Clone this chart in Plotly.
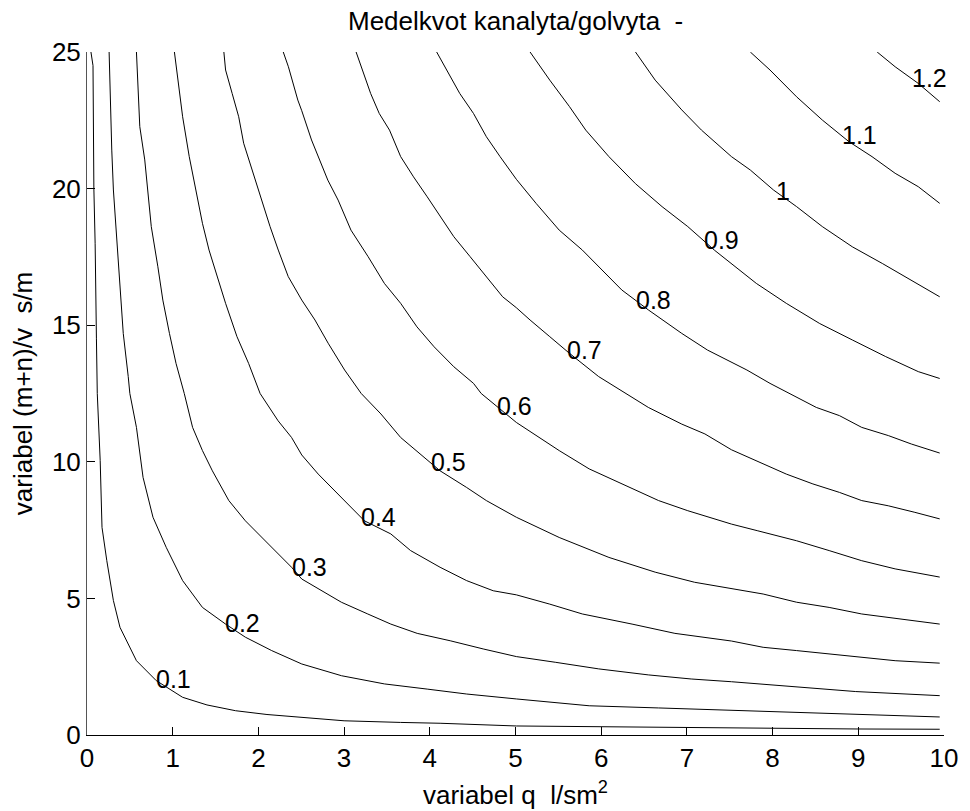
import numpy as np
import plotly.graph_objects as go

# Contour levels of the mean ratio, each traced as (q, (m+n)/v) points
levels = [0.1, 0.2, 0.3, 0.4, 0.5, 0.6, 0.7, 0.8, 0.9, 1.0, 1.1, 1.2]
level_text = ["0.1", "0.2", "0.3", "0.4", "0.5", "0.6", "0.7", "0.8", "0.9", "1", "1.1", "1.2"]

q_01 = [0.046, 0.07, 0.08, 0.095, 0.11, 0.12, 0.154, 0.175, 0.231, 0.308, 0.385, 0.577, 0.808,
        1.116, 1.40, 1.732, 2.10, 2.50, 3.0, 3.66, 4.12, 5.01, 5.7, 6.5, 7.5, 8.0, 9.0, 9.95]
k_01 = [25.0, 24.5, 20.0, 18.0, 14.5, 12.5, 10.04, 7.6, 6.38, 4.92, 3.94, 2.72, 1.99,
        1.38, 1.10, 0.89, 0.75, 0.65, 0.52, 0.46, 0.43, 0.33, 0.31, 0.28, 0.27, 0.23, 0.22, 0.21]

q_02 = [0.258, 0.27, 0.289, 0.308, 0.346, 0.385, 0.423, 0.481, 0.50, 0.577, 0.654, 0.77, 0.924,
        1.116, 1.347, 1.617, 1.848, 2.155, 2.506, 2.97, 3.47, 3.97, 4.43, 5.01, 5.51, 5.86,
        6.67, 7.24, 8.0, 8.8, 9.5, 9.95]
k_02 = [25.0, 23.24, 21.41, 19.95, 18.24, 16.53, 14.70, 13.12, 12.5, 11.26, 9.43, 7.97, 6.87,
        5.65, 4.67, 4.06, 3.58, 3.09, 2.60, 2.17, 1.87, 1.68, 1.50, 1.32, 1.16, 1.07,
        0.99, 0.93, 0.84, 0.77, 0.70, 0.66]

q_03 = [0.577, 0.597, 0.616, 0.674, 0.712, 0.75, 0.827, 0.885, 0.962, 1.039, 1.135, 1.232, 1.347,
        1.463, 1.655, 1.848, 2.117, 2.387, 2.506, 2.737, 2.968, 3.276, 3.545, 3.853, 4.238,
        4.623, 5.01, 5.47, 5.97, 6.55, 7.05, 7.52, 8.28, 8.97, 9.95]
k_03 = [25.0, 23.24, 22.27, 21.05, 19.83, 18.61, 17.14, 15.92, 14.70, 13.60, 12.5, 11.26, 10.41,
        9.67, 8.58, 7.84, 6.99, 6.14, 5.71, 5.28, 4.86, 4.43, 4.06, 3.72, 3.45,
        3.15, 2.87, 2.66, 2.42, 2.20, 2.05, 1.95, 1.75, 1.59, 1.44]

q_04 = [1.02, 1.04, 1.116, 1.193, 1.27, 1.347, 1.424, 1.52, 1.617, 1.75, 1.886, 2.02, 2.23, 2.387,
        2.506, 2.698, 2.968, 3.237, 3.545, 3.776, 4.12, 4.43, 4.74, 5.01, 5.40, 5.78, 6.36,
        6.86, 7.52, 7.89, 8.28, 8.66, 9.04, 9.43, 9.95]
k_04 = [25.0, 24.46, 22.63, 21.17, 19.95, 18.73, 17.75, 16.78, 15.80, 14.58, 13.60, 12.5, 11.5, 10.89,
        10.25, 9.55, 8.70, 7.84, 7.36, 6.75, 6.14, 5.65, 5.28, 5.13, 4.79, 4.43, 4.06,
        3.72, 3.44, 3.21, 3.09, 2.96, 2.84, 2.72, 2.63]

q_05 = [1.597, 1.617, 1.694, 1.77, 1.828, 1.925, 2.02, 2.136, 2.232, 2.348, 2.506, 2.66, 2.814,
        3.006, 3.20, 3.43, 3.66, 3.93, 4.12, 4.43, 4.66, 5.01, 5.51, 6.09, 6.63, 7.09, 7.52,
        7.89, 8.28, 8.66, 9.04, 9.43, 9.95]
k_05 = [25.0, 24.34, 23.48, 22.63, 21.66, 20.68, 19.70, 18.61, 17.75, 16.78, 15.92, 15.19, 14.34,
        13.36, 12.5, 11.75, 10.89, 10.16, 9.67, 9.06, 8.58, 7.97, 7.23, 6.50, 5.96, 5.59, 5.36,
        5.16, 4.86, 4.67, 4.43, 4.28, 4.06]

q_06 = [2.29, 2.35, 2.46, 2.506, 2.62, 2.70, 2.81, 2.93, 3.08, 3.28, 3.47, 3.66, 3.85, 4.05, 4.28,
        4.51, 4.60, 5.01, 5.51, 5.86, 6.28, 6.67, 7.01, 7.52, 7.82, 8.28, 8.66, 9.04, 9.43, 9.95]
k_06 = [25.0, 24.46, 23.24, 22.85, 21.78, 21.17, 20.31, 19.58, 18.48, 17.51, 16.53, 15.80, 14.94, 14.21, 13.48,
        12.87, 12.5, 11.44, 10.41, 9.74, 9.13, 8.58, 8.21, 7.72, 7.48, 7.11, 6.75, 6.38, 6.08, 5.78]

q_07 = [3.14, 3.24, 3.31, 3.41, 3.53, 3.66, 3.81, 3.97, 4.12, 4.28, 4.47, 4.66, 4.85, 5.01, 5.17,
        5.40, 5.63, 5.97, 6.28, 6.55, 6.94, 7.21, 7.52, 7.85, 8.16, 8.47, 8.78, 9.04, 9.35, 9.66, 9.95]
k_07 = [25.0, 24.09, 23.48, 22.75, 22.14, 21.17, 20.43, 19.70, 18.97, 18.24, 17.51, 16.78, 16.04, 15.64, 15.19,
        14.58, 13.97, 13.12, 12.5, 11.99, 11.38, 11.02, 10.44, 9.98, 9.55, 9.19, 8.88, 8.58, 8.39, 8.15, 7.91]

q_08 = [4.08, 4.20, 4.35, 4.51, 4.66, 4.82, 5.01, 5.24, 5.51, 5.78, 6.01, 6.24, 6.55, 6.94, 7.24,
        7.52, 7.70, 7.97, 8.20, 8.51, 8.78, 9.04, 9.35, 9.62, 9.95]
k_08 = [25.0, 24.34, 23.48, 22.75, 21.90, 21.17, 20.34, 19.46, 18.48, 17.75, 17.02, 16.29, 15.56, 14.70, 14.09,
        13.66, 13.36, 12.87, 12.5, 11.99, 11.69, 11.26, 10.96, 10.65, 10.32]

q_09 = [5.17, 5.40, 5.63, 5.82, 6.09, 6.40, 6.71, 7.01, 7.32, 7.52, 7.81, 8.16, 8.55, 8.93, 9.32, 9.70, 9.95]
k_09 = [25.0, 23.97, 23.0, 22.14, 21.17, 20.18, 19.34, 18.61, 17.75, 17.26, 16.53, 15.80, 15.06, 14.46, 13.85, 13.30, 13.05]

q_10 = [6.40, 6.63, 6.94, 7.17, 7.52, 7.74, 8.01, 8.28, 8.58, 8.93, 9.28, 9.62, 9.95]
k_10 = [25.0, 23.97, 22.88, 22.14, 21.17, 20.68, 19.95, 19.34, 18.61, 17.87, 17.26, 16.65, 16.04]

q_11 = [7.74, 7.97, 8.28, 8.58, 8.89, 9.16, 9.43, 9.70, 9.95]
k_11 = [25.0, 24.34, 23.36, 22.51, 21.72, 21.17, 20.56, 20.07, 19.46]

q_12 = [9.22, 9.43, 9.70, 9.95]
k_12 = [25.0, 24.46, 23.85, 23.18]

# q position of each inline level label
label_q = [0.79, 1.60, 2.38, 3.19, 4.00, 4.77, 5.59, 6.40, 7.19, 8.03, 8.80, 9.61]

x_ticks = list(range(0, 11))
y_ticks = [0, 5, 10, 15, 20, 25]

curves_q = [q_01, q_02, q_03, q_04, q_05, q_06, q_07, q_08, q_09, q_10, q_11, q_12]
curves_k = [k_01, k_02, k_03, k_04, k_05, k_06, k_07, k_08, k_09, k_10, k_11, k_12]

FONT = "Liberation Sans, Arial, Helvetica, sans-serif"
FS = 26

fig = go.Figure()
annotations = []
for lvl, txt, qs, ks, lq in zip(levels, level_text, curves_q, curves_k, label_q):
    fig.add_trace(go.Scatter(x=qs, y=ks, mode="lines", name=txt,
                             line=dict(color="black", width=1), hoverinfo="skip"))
    lk = float(np.interp(lq, qs, ks))
    annotations.append(dict(x=lq, y=lk, xref="x", yref="y", text=txt, showarrow=False,
                            xanchor="left", yanchor="middle", borderpad=0,
                            font=dict(family=FONT, size=FS - 1, color="black")))

# plot title and axis titles
annotations.append(dict(text="Medelkvot kanalyta/golvyta\u00a0\u00a0-", xref="paper", yref="paper",
                        x=0.5, y=(735 - 21) / 683, xanchor="center", yanchor="middle",
                        showarrow=False, font=dict(family=FONT, size=FS, color="black")))
annotations.append(dict(text="variabel q\u00a0\u00a0l/sm<sup>2</sup>", xref="paper", yref="paper",
                        x=0.5, y=-(793 - 735) / 683, xanchor="center", yanchor="middle",
                        showarrow=False, font=dict(family=FONT, size=FS, color="black")))
annotations.append(dict(text="variabel (m+n)/v\u00a0\u00a0s/m", xref="paper", yref="paper",
                        x=(22 - 87) / 866, y=0.5, xanchor="center", yanchor="middle", textangle=-90,
                        showarrow=False, font=dict(family=FONT, size=FS, color="black")))

axis_common = dict(showgrid=False, zeroline=False, showline=True, linewidth=1,
                   ticks="inside", ticklen=8, tickcolor="black", tickwidth=1, mirror=False,
                   tickfont=dict(family=FONT, size=FS, color="black"))

fig.update_layout(
    width=970, height=811, autosize=False,
    margin=dict(l=87, r=17, t=52, b=76),
    paper_bgcolor="white", plot_bgcolor="white",
    showlegend=False,
    xaxis=dict(range=[0, 10], tickvals=x_ticks, linecolor="black", **axis_common),
    yaxis=dict(range=[0, 25], tickvals=y_ticks, linecolor="#555555", **axis_common),
    annotations=annotations,
)

fig.write_html("out.html")
